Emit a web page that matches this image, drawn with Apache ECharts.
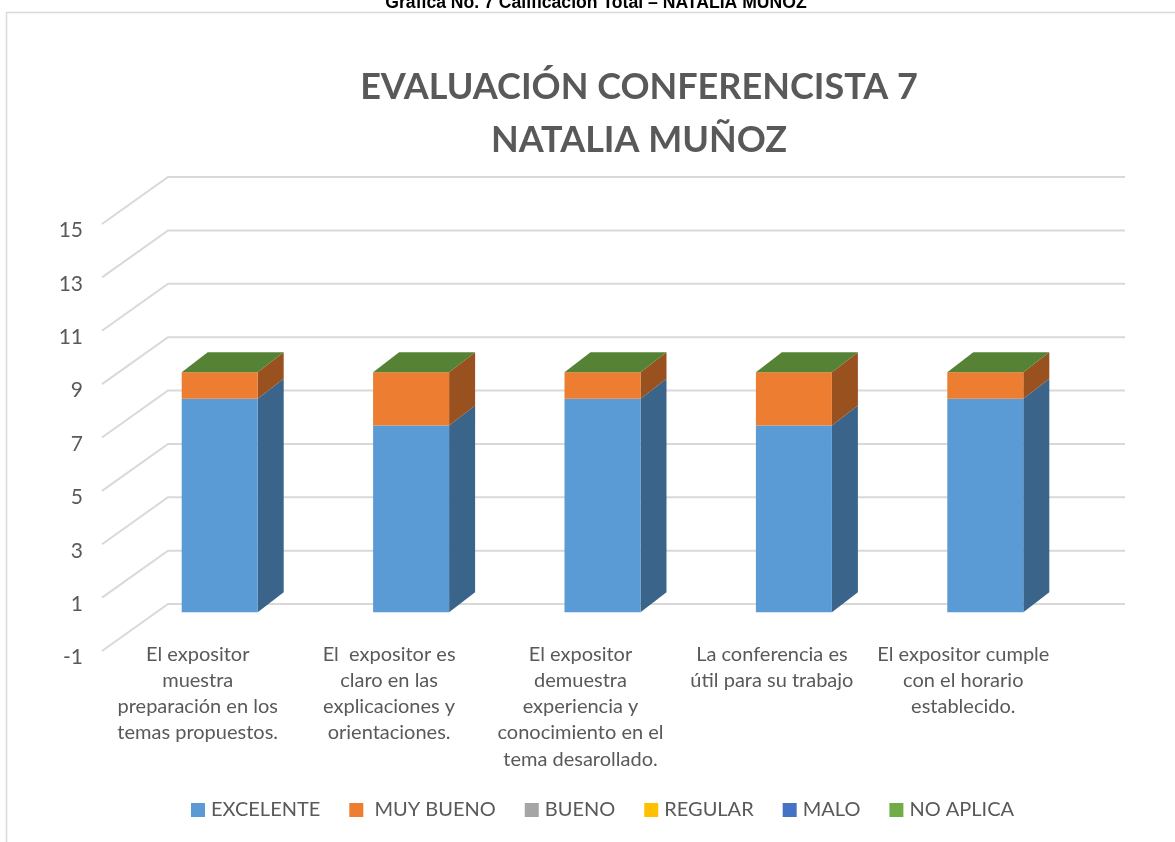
<!DOCTYPE html>
<html>
<head>
<meta charset="utf-8">
<title>Evaluación conferencista 7</title>
<script src="https://cdn.jsdelivr.net/npm/echarts@6/dist/echarts.min.js"></script>
<style>
html,body{margin:0;padding:0;background:#fff;}
#main{width:1175px;height:842px;}
</style>
</head>
<body>
<div id="main"></div>
<script>
var categories=[
  'El expositor\nmuestra\npreparación en los\ntemas propuestos.',
  'El  expositor es\nclaro en las\nexplicaciones y\norientaciones.',
  'El expositor\ndemuestra\nexperiencia y\nconocimiento en el\ntema desarollado.',
  'La conferencia es\nútil para su trabajo',
  'El expositor cumple\ncon el horario\nestablecido.'
];
var seriesNames=['EXCELENTE',' MUY BUENO','BUENO','REGULAR','MALO','NO APLICA'];
var excelente=[8,7,8,7,8];
var muyBueno=[1,2,1,2,1];
var bueno=[0,0,0,0,0];
var regular=[0,0,0,0,0];
var malo=[0,0,0,0,0];
var noAplica=[0,0,0,0,0];
var seriesValues=[excelente,muyBueno,bueno,regular,malo,noAplica];
var gridValues=[-1,1,3,5,7,9,11,13,15];

var colors=['#5b9bd5','#ed7d31','#a5a5a5','#ffc000','#4472c4','#70ad47'];
var sideColors=['#3a648a','#99511f','#6b6b6b','#a67c00','#2c4a7f','#48702e'];
var topColors=['#5b9bd5','#ed7d31','#a5a5a5','#ffc000','#4472c4','#568235'];

// depth of the fake 3d box, in pixels
var wallDx=66, wallDy=47;
var barFrontDx=22, barFrontDy=12;
var barBackDx=48, barBackDy=32;
var barW=76;
var textColor='#595959';
var font='Lato';

var chart=echarts.init(document.getElementById('main'));

function renderWall(params,api){
  var cs=params.coordSys;
  var p=api.coord([0,api.value(0)]);
  var x0=cs.x, y0=p[1];
  return {
    type:'polyline',
    shape:{points:[[x0,y0],[x0+wallDx,y0-wallDy],[cs.x+cs.width+wallDx,y0-wallDy]]},
    style:{stroke:'#d9d9d9',lineWidth:2,fill:null},
    silent:true
  };
}

function renderBar(params,api){
  var c=api.value(0), base=api.value(1), end=api.value(2), isLast=api.value(3);
  var pb=api.coord([c,base]), pe=api.coord([c,end]);
  var x1=pb[0]-barW/2+barFrontDx, x2=x1+barW;
  var yb=pb[1]-barFrontDy, ye=pe[1]-barFrontDy;
  var dx=barBackDx-barFrontDx, dy=barBackDy-barFrontDy;
  var si=params.seriesIndex-1;
  var kids=[];
  if(end>base){
    kids.push({type:'polygon',shape:{points:[[x2,yb],[x2+dx,yb-dy],[x2+dx,ye-dy],[x2,ye]]},style:{fill:sideColors[si]}});
    kids.push({type:'rect',shape:{x:x1,y:ye,width:barW,height:yb-ye},style:{fill:colors[si]}});
  }
  if(isLast){
    kids.push({type:'polygon',shape:{points:[[x1,ye],[x1+dx,ye-dy],[x2+dx,ye-dy],[x2,ye]]},style:{fill:topColors[si]}});
  }
  return {type:'group',children:kids};
}

var seriesList=[{
  type:'custom',
  name:'walls',
  silent:true,
  z:1,
  renderItem:renderWall,
  data:gridValues.map(function(v){return [v];}),
  encode:{y:0}
}];
var totals=categories.map(function(){return 0;});
seriesValues.forEach(function(vals,si){
  seriesList.push({
    type:'custom',
    name:seriesNames[si],
    z:2,
    itemStyle:{color:colors[si]},
    renderItem:renderBar,
    encode:{x:0,y:2},
    data:vals.map(function(v,i){
      var base=totals[i];
      totals[i]+=v;
      return [i,base,totals[i],si===seriesValues.length-1?1:0];
    })
  });
});

chart.setOption({
  animation:false,
  backgroundColor:'#fff',
  textStyle:{fontFamily:font},
  title:{
    text:'EVALUACIÓN CONFERENCISTA 7\nNATALIA MUÑOZ',
    left:634,
    top:56,
    textAlign:'center',
    textStyle:{fontFamily:font,fontSize:36,fontWeight:'bold',color:textColor,lineHeight:53}
  },
  legend:{
    data:seriesNames,
    left:186,
    top:795,
    itemWidth:14,
    itemHeight:14,
    itemGap:29,
    icon:'rect',
    textStyle:{fontFamily:font,fontSize:20,color:textColor,padding:[0,0,0,1]}
  },
  grid:{left:102,right:116,top:224,bottom:191},
  xAxis:{
    type:'category',
    data:categories,
    axisLine:{show:false},
    axisTick:{show:false},
    axisLabel:{interval:0,color:textColor,fontFamily:font,fontSize:20,lineHeight:26.25,margin:-10}
  },
  yAxis:{
    type:'value',
    min:-1,
    max:15,
    interval:2,
    splitLine:{show:false},
    axisLine:{show:false},
    axisTick:{show:false},
    axisLabel:{color:textColor,fontFamily:font,fontSize:21,margin:19,verticalAlign:'top',lineHeight:13}
  },
  graphic:[
    {type:'polyline',silent:true,z:0,shape:{points:[[6.5,842],[6.5,12.5],[1175,12.5]]},style:{stroke:'#d9d9d9',lineWidth:1.5,fill:null}},
    {type:'text',silent:true,x:596,y:12,style:{text:'Grafica No. 7 Calificación Total – NATALIA MUÑOZ',fill:'#000',font:'bold 17.6px "Liberation Sans"',textAlign:'center',textVerticalAlign:'bottom'}}
  ],
  series:seriesList
});
</script>
</body>
</html>
